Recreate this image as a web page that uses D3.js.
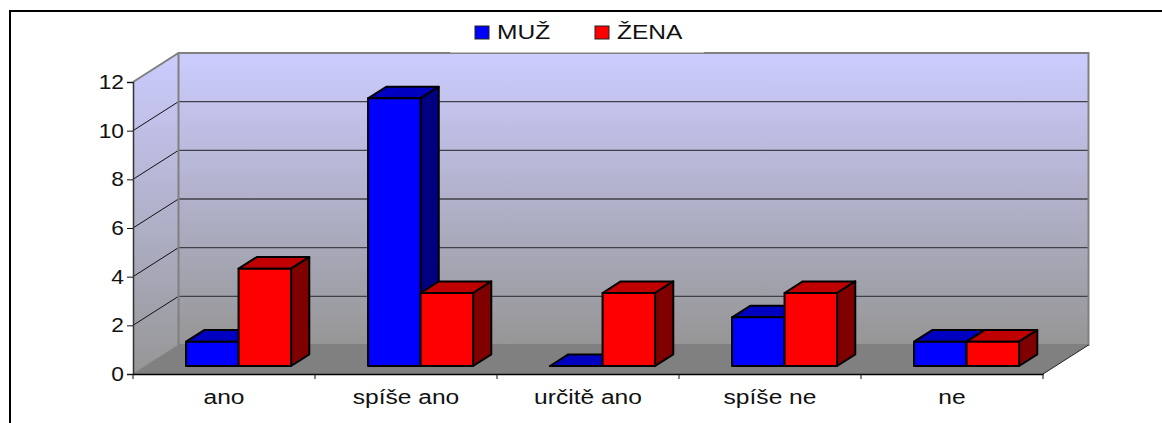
<!DOCTYPE html>
<html>
<head>
<meta charset="utf-8">
<script src="https://cdnjs.cloudflare.com/ajax/libs/d3/7.8.5/d3.min.js"></script>
<style>
    html, body { margin: 0; padding: 0; background: #fff; }
    svg { display: block; }
    text { font-family: "Liberation Sans", Arial, sans-serif; fill: #111; }
</style>
</head>
<body>
<svg id="chart" width="1162" height="423"></svg>
<script>
const categories = ['ano', 'spíše ano', 'určitě ano', 'spíše ne', 'ne'];
const seriesNames = ['MUŽ', 'ŽENA'];
const muz = [1, 11, 0, 2, 1];
const zena = [4, 3, 3, 3, 1];
const seriesValues = [muz, zena];
const yTicks = [0, 2, 4, 6, 8, 10, 12];

const frontColors = ['#0000ff', '#ff0000'];
const topColors = ['#0000c0', '#c00000'];
const sideColors = ['#000080', '#800000'];

const svg = d3.select('#chart');
const textStretch = 1.17;
const tickStretch = 1.14;

// Bars sit about 2px right of the axis bands in the original
const x = d3.scaleBand().domain(categories).range([135, 1045])
    .paddingInner(0.423).paddingOuter(0.2115);
const xSeries = d3.scaleBand().domain(seriesNames).range([0, x.bandwidth()]);
const y = d3.scaleLinear().domain([0, 12]).range([374, 82]);

// Oblique projection: z runs 0 (front plane) to 1 (back wall)
const depthX = 45.5;
const depthY = 29;
const px = (vx, z) => vx + z * depthX;
const py = (v, z) => y(v) - z * depthY;
const pt = (vx, v, z) => [px(vx, z), py(v, z)];
const poly = pts => pts.map(p => p.join(',')).join(' ');

const barZ0 = 0.276;
const barZ1 = 0.676;

const xAxisScale = d3.scaleBand().domain(categories).range([133, 1043]);
const [x0, x1] = xAxisScale.range();
const [v0, v1] = y.domain();

// Wall gradients
const defs = svg.append('defs');
const grad = defs.append('linearGradient').attr('id', 'wallGrad')
    .attr('x1', 0).attr('y1', 0).attr('x2', 0).attr('y2', 1);
grad.append('stop').attr('offset', '0%').attr('stop-color', '#ccccff');
grad.append('stop').attr('offset', '100%').attr('stop-color', '#969696');

// Chart frame (open on the right and at the bottom)
svg.append('path').attr('d', 'M10,423V11H1162')
    .attr('fill', 'none').attr('stroke', '#000').attr('stroke-width', 2);

// Walls and floor
svg.append('polygon')
    .attr('points', poly([pt(x0, v0, 1), pt(x1, v0, 1), pt(x1, v1, 1), pt(x0, v1, 1)]))
    .attr('fill', 'url(#wallGrad)');
svg.append('polygon')
    .attr('points', poly([pt(x0, v0, 0), pt(x0, v0, 1), pt(x0, v1, 1), pt(x0, v1, 0)]))
    .attr('fill', 'url(#wallGrad)');
svg.append('polygon')
    .attr('points', poly([pt(x0, v0, 0), pt(x1, v0, 0), pt(x1, v0, 1), pt(x0, v0, 1)]))
    .attr('fill', '#808080');

// Gridlines on the back wall and the left wall
const gridTicks = yTicks.filter(d => d > 0 && d < 12);
svg.append('g').selectAll('line').data(gridTicks).join('line')
    .attr('x1', px(x0, 1)).attr('x2', px(x1, 1))
    .attr('y1', d => py(d, 1)).attr('y2', d => py(d, 1))
    .attr('stroke', '#404048').attr('stroke-width', 1.4);
svg.append('g').selectAll('line').data(gridTicks).join('line')
    .attr('x1', px(x0, 0)).attr('x2', px(x0, 1))
    .attr('y1', d => py(d, 0)).attr('y2', d => py(d, 1))
    .attr('stroke', '#111').attr('stroke-width', 1);

// Wall outline
const wallEdge = d3.line();
svg.append('path')
    .attr('d', wallEdge([pt(x0, v1, 0), pt(x0, v1, 1), pt(x1, v1, 1), pt(x1, v0, 1), pt(x0, v0, 1), pt(x0, v1, 1)]))
    .attr('fill', 'none').attr('stroke', '#808080').attr('stroke-width', 2);
svg.append('path')
    .attr('d', wallEdge([pt(x0, v0, 0), pt(x0, v0, 1)]))
    .attr('stroke', '#808080').attr('stroke-width', 1);
svg.append('path')
    .attr('d', wallEdge([pt(x1, v0, 0), pt(x1, v0, 1)]))
    .attr('stroke', '#222').attr('stroke-width', 1);

// Bars
const rows = [];
categories.forEach((c, i) => {
    seriesNames.forEach((s, j) => {
        rows.push({ c, s, j, value: seriesValues[j][i] });
    });
});

const bar = svg.append('g').selectAll('g').data(rows).join('g')
    .attr('stroke', '#000').attr('stroke-width', 2).attr('stroke-linejoin', 'round');

const barLeft = d => x(d.c) + xSeries(d.s);
const barRight = d => barLeft(d) + xSeries.bandwidth();

bar.append('polygon')
    .attr('fill', d => topColors[d.j])
    .attr('points', d => poly([
        pt(barLeft(d), d.value, barZ0), pt(barRight(d), d.value, barZ0),
        pt(barRight(d), d.value, barZ1), pt(barLeft(d), d.value, barZ1)
    ]));
bar.append('polygon')
    .attr('fill', d => sideColors[d.j])
    .attr('points', d => poly([
        pt(barRight(d), 0, barZ0), pt(barRight(d), d.value, barZ0),
        pt(barRight(d), d.value, barZ1), pt(barRight(d), 0, barZ1)
    ]));
bar.append('polygon')
    .attr('fill', d => frontColors[d.j])
    .attr('points', d => poly([
        pt(barLeft(d), 0, barZ0), pt(barRight(d), 0, barZ0),
        pt(barRight(d), d.value, barZ0), pt(barLeft(d), d.value, barZ0)
    ]));

// Axes
const yAxis = svg.append('g').attr('transform', `translate(${x0},0)`)
    .call(d3.axisLeft(y).tickValues(yTicks).tickSize(6).tickPadding(3));
yAxis.select('.domain').attr('stroke', '#333').attr('stroke-width', 1.5);
yAxis.selectAll('.tick line').attr('stroke', '#111');
yAxis.selectAll('.tick text')
    .attr('font-size', 20).attr('fill', '#111')
    .style('font-family', '"Liberation Sans", Arial, sans-serif')
    .attr('x', -9 / tickStretch)
    .attr('transform', `scale(${tickStretch},1)`);

const xAxis = svg.append('g').attr('transform', `translate(0,${y(0)})`)
    .call(d3.axisBottom(xAxisScale).tickSize(0).tickPadding(15));
xAxis.select('.domain').attr('stroke', '#000').attr('stroke-width', 1.5);
xAxis.selectAll('.tick text')
    .attr('font-size', 21).attr('fill', '#111')
    .style('font-family', '"Liberation Sans", Arial, sans-serif')
    .attr('transform', `scale(${textStretch},1)`);
// Tick marks sit between the categories
xAxis.append('g').selectAll('line')
    .data(categories.map(c => xAxisScale(c)).concat(x1))
    .join('line')
    .attr('x1', d => d).attr('x2', d => d).attr('y1', 0).attr('y2', 5)
    .attr('stroke', '#111');

// Legend
const legend = svg.append('g');
legend.append('rect').attr('x', 450).attr('y', 14).attr('width', 254).attr('height', 38.5).attr('fill', '#fff');
const legendSwatchX = [475, 595];
const legendItem = legend.selectAll('g').data(seriesNames).join('g')
    .attr('transform', (d, i) => `translate(${legendSwatchX[i]},26)`);
legendItem.append('rect')
    .attr('width', 14).attr('height', 13)
    .attr('fill', (d, i) => frontColors[i])
    .attr('stroke', '#222').attr('stroke-width', 1);
legendItem.append('text')
    .text(d => d)
    .attr('x', 22 / textStretch).attr('y', 12.5)
    .attr('font-size', 21)
    .attr('transform', `scale(${textStretch},1)`);
</script>
</body>
</html>
